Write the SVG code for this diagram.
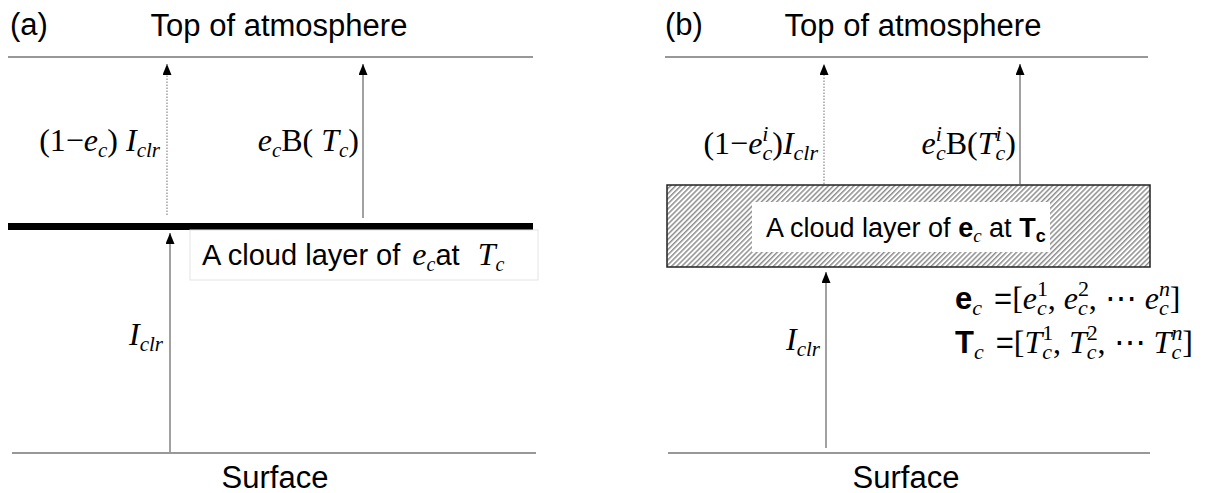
<svg xmlns="http://www.w3.org/2000/svg" width="1208" height="493" viewBox="0 0 1208 493">
<defs>
<style>
.sans{font-family:"Liberation Sans",Arial,sans-serif;fill:#000}
.ser{font-family:"Liberation Serif","Times New Roman",serif;fill:#000}
.it{font-style:italic}
.bd{font-weight:bold}
.bound{stroke:#333;stroke-width:1.2;fill:none}
.flow{stroke:#8a8a8a;stroke-width:1.6;fill:none}
.dot{stroke:#8a8a8a;stroke-width:1.2;stroke-dasharray:1.5 1.5;fill:none}
</style>
<marker id="ah" markerUnits="userSpaceOnUse" markerWidth="12" markerHeight="10" refX="11" refY="4.5" orient="auto" viewBox="0 0 12 10">
<path d="M0,0 L11,4.5 L0,9 Z" fill="#000"/>
</marker>
<pattern id="hatch" patternUnits="userSpaceOnUse" width="3.6" height="3.6" patternTransform="rotate(45)">
<rect width="3.6" height="3.6" fill="#fff"/>
<line x1="0.8" y1="0" x2="0.8" y2="3.6" stroke="#555" stroke-width="1"/>
</pattern>
</defs>
<rect width="1208" height="493" fill="#fff"/>

<!-- Panel (a) -->
<g id="a-title">
<text class="sans" x="10" y="35" font-size="31">(a)</text>
<text class="sans" x="279" y="36" font-size="31" text-anchor="middle">Top of atmosphere</text>
<line class="bound" x1="8" y1="57" x2="533" y2="57"/>
</g>
<g id="a-cloud">
<rect x="8" y="223" width="525" height="7" fill="#000"/>
<rect x="190" y="230" width="348" height="50" fill="#fff" stroke="#e4e4e4" stroke-width="1"/>
<text x="202" y="265" font-size="29"><tspan class="sans">A cloud layer of </tspan><tspan class="ser it" font-size="32" dx="4">e</tspan><tspan class="ser it" font-size="20" dy="6">c</tspan><tspan class="sans" dy="-6">at </tspan><tspan class="ser it" font-size="32" dx="10">T</tspan><tspan class="ser it" font-size="20" dy="6">c</tspan></text>
</g>
<g id="a-surface">
<line class="bound" x1="12" y1="453" x2="536" y2="453"/>
<text class="sans" x="275" y="488" font-size="31" text-anchor="middle">Surface</text>
</g>
<g id="a-labels">
<text class="ser" x="160" y="151" font-size="32" text-anchor="end">(1−<tspan class="it">e</tspan><tspan class="it" font-size="21" dy="6">c</tspan><tspan dy="-6">) </tspan><tspan class="it">I</tspan><tspan class="it" font-size="21" dy="6">clr</tspan></text>
<text class="ser" x="359" y="151" font-size="32" text-anchor="end"><tspan class="it">e</tspan><tspan class="it" font-size="21" dy="6">c</tspan><tspan dy="-6">B( </tspan><tspan class="it">T</tspan><tspan class="it" font-size="21" dy="6">c</tspan><tspan dy="-6">)</tspan></text>
<text class="ser" x="163" y="345" font-size="32" text-anchor="end"><tspan class="it">I</tspan><tspan class="it" font-size="21" dy="6">clr</tspan></text>
</g>
<g id="a-connectors">
<line class="dot" x1="167" y1="215" x2="167" y2="64" marker-end="url(#ah)"/>
<line class="flow" x1="363" y1="218" x2="363" y2="64" marker-end="url(#ah)"/>
<line class="flow" x1="170" y1="452" x2="170" y2="233" marker-end="url(#ah)"/>
</g>

<!-- Panel (b) -->
<g id="b-title">
<text class="sans" x="665" y="35" font-size="31">(b)</text>
<text class="sans" x="913" y="36" font-size="31" text-anchor="middle">Top of atmosphere</text>
<line class="bound" x1="665" y1="57" x2="1148" y2="57"/>
</g>
<g id="b-cloud">
<rect x="667" y="185" width="483" height="82" fill="url(#hatch)" stroke="#222" stroke-width="1.5"/>
<rect x="752" y="202" width="298" height="50" fill="#fff"/>
<text x="766" y="237" font-size="27"><tspan class="sans">A cloud layer of </tspan><tspan class="sans bd">e</tspan><tspan class="ser it" font-size="19" dy="5">c</tspan><tspan class="sans" dy="-5"> at </tspan><tspan class="sans bd">T</tspan><tspan class="sans bd" font-size="18" dy="5">c</tspan></text>
</g>
<g id="b-surface">
<line class="bound" x1="668" y1="453" x2="1150" y2="453"/>
<text class="sans" x="906" y="488" font-size="31" text-anchor="middle">Surface</text>
</g>
<g id="b-labels">
<text class="ser" x="818" y="154" font-size="32" text-anchor="end">(1−<tspan class="it">e</tspan><tspan class="it" font-size="22" dy="-13">i</tspan><tspan class="it" font-size="22" dx="-6" dy="19">c</tspan><tspan dy="-6">)</tspan><tspan class="it">I</tspan><tspan class="it" font-size="22" dy="6">clr</tspan></text>
<text class="ser" x="1016" y="154" font-size="32" text-anchor="end"><tspan class="it">e</tspan><tspan class="it" font-size="22" dy="-13">i</tspan><tspan class="it" font-size="22" dx="-6" dy="19">c</tspan><tspan dy="-6">B(</tspan><tspan class="it">T</tspan><tspan class="it" font-size="22" dy="-13">i</tspan><tspan class="it" font-size="22" dx="-6" dy="19">c</tspan><tspan dy="-6">)</tspan></text>
<text class="ser" x="820" y="350" font-size="32" text-anchor="end"><tspan class="it">I</tspan><tspan class="it" font-size="21" dy="6">clr</tspan></text>
<text x="955" y="309" font-size="31"><tspan class="sans bd">e</tspan><tspan class="ser it" font-size="22" dy="6">c</tspan><tspan class="sans" dy="-6" dx="12">=</tspan><tspan class="ser" font-size="32">[</tspan><tspan class="ser it" font-size="32">e</tspan><tspan class="ser" font-size="22" dy="-13">1</tspan><tspan class="ser it" font-size="22" dx="-11" dy="19">c</tspan><tspan class="ser" font-size="32" dy="-6" dx="1">, </tspan><tspan class="ser it" font-size="32">e</tspan><tspan class="ser" font-size="22" dy="-13">2</tspan><tspan class="ser it" font-size="22" dx="-11" dy="19">c</tspan><tspan class="ser" font-size="32" dy="-6" dx="1">, ⋯ </tspan><tspan class="ser it" font-size="32">e</tspan><tspan class="ser it" font-size="22" dy="-13">n</tspan><tspan class="ser it" font-size="22" dx="-11" dy="19">c</tspan><tspan class="ser" font-size="32" dy="-6" dx="1">]</tspan></text>
<text x="955" y="353" font-size="31"><tspan class="sans bd">T</tspan><tspan class="ser it" font-size="22" dy="6">c</tspan><tspan class="sans" dy="-6" dx="12">=</tspan><tspan class="ser" font-size="32">[</tspan><tspan class="ser it" font-size="32">T</tspan><tspan class="ser" font-size="22" dy="-13">1</tspan><tspan class="ser it" font-size="22" dx="-11" dy="19">c</tspan><tspan class="ser" font-size="32" dy="-6" dx="1">, </tspan><tspan class="ser it" font-size="32">T</tspan><tspan class="ser" font-size="22" dy="-13">2</tspan><tspan class="ser it" font-size="22" dx="-11" dy="19">c</tspan><tspan class="ser" font-size="32" dy="-6" dx="1">, ⋯ </tspan><tspan class="ser it" font-size="32">T</tspan><tspan class="ser it" font-size="22" dy="-13">n</tspan><tspan class="ser it" font-size="22" dx="-11" dy="19">c</tspan><tspan class="ser" font-size="32" dy="-6" dx="1">]</tspan></text>
</g>
<g id="b-connectors">
<line class="dot" x1="824" y1="184" x2="824" y2="64" marker-end="url(#ah)"/>
<line class="flow" x1="1020" y1="184" x2="1020" y2="64" marker-end="url(#ah)"/>
<line class="flow" x1="826" y1="448" x2="826" y2="272" marker-end="url(#ah)"/>
</g>
</svg>
